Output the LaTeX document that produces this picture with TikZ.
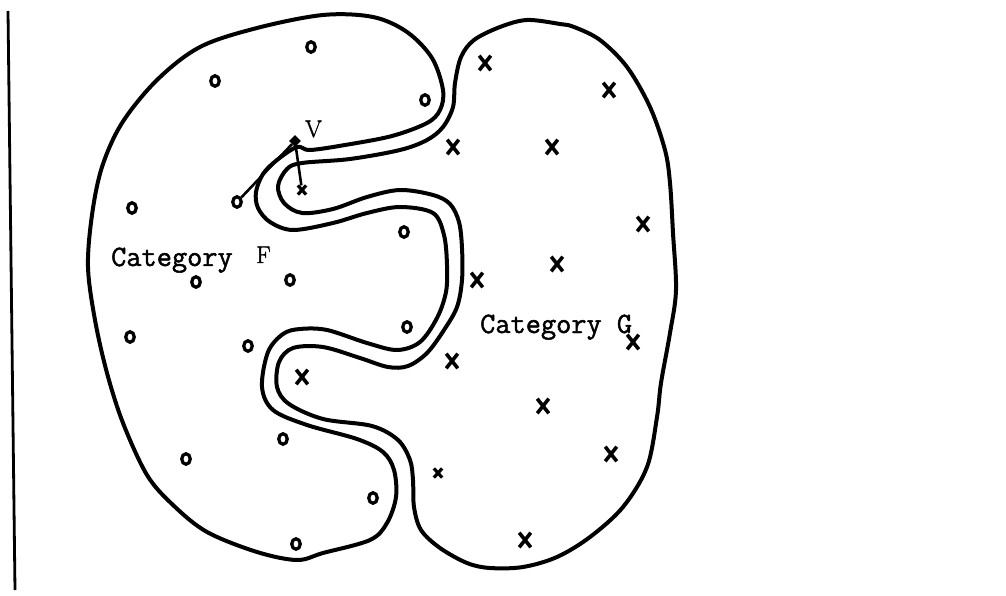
\documentclass[tikz,border=0pt]{standalone}
\usepackage{fontspec}
\newfontfamily\twfont{Latin Modern Mono}[FakeBold=1.6]
\newfontfamily\rmboldish{Latin Modern Roman}[FakeBold=1.4]
\usetikzlibrary{shapes.geometric,shapes.misc}
\tikzset{
  boundary/.style={line width=4bp, line join=round},
  omark/.style={ellipse, draw, line width=3.3bp, minimum width=8.5bp, minimum height=10.5bp, inner sep=0pt},
  xmark/.style={cross out, draw, line width=3.6bp, minimum width=8bp, minimum height=11bp, inner sep=0pt},
  smallx/.style={cross out, draw, line width=3.2bp, minimum width=5bp, minimum height=6bp, inner sep=0pt},
  catlabel/.style={anchor=base west, inner sep=0pt, font=\twfont\fontsize{29.5bp}{30bp}\selectfont},
  letterlabel/.style={anchor=base west, inner sep=0pt, font=\rmboldish\fontsize{24bp}{26bp}\selectfont},
  thinline/.style={line width=2.6bp}
}
\begin{document}
\begin{tikzpicture}[x=1bp,y=-1bp]
\useasboundingbox (0,0) rectangle (1006,596);
\fill[white] (0,0) rectangle (1006,596);
% left frame line
\coordinate (lt) at (8,11);
\coordinate (lb) at (15,590);
\draw[line width=2.8bp] (lt) -- (lb);
% Category F boundary
\draw[boundary] plot[smooth cycle, tension=0.55] coordinates {
(88,267) (92,215) (102,167) (122,123) (157,80) (200,47) (257,28) (323,15) (373,17) (407,32) (432,58) (443,90) (440,110) (427,123) (392,136) (345,145) (310,150) (297,147) (277,160) (263,174) (256,192) (258,208) (270,222) (293,230) (333,223) (367,213) (400,207) (433,213) (444,235) (447,265) (446,292) (437,318) (420,342) (397,350) (367,343) (327,330) (300,329) (283,334) (268,352) (262,387) (273,410) (307,425) (357,439) (383,452) (394,470) (396,497) (387,523) (370,540) (323,553) (297,560) (257,552) (207,532) (173,505) (147,475) (123,423) (107,373) (95,320)};
% Category G boundary
\draw[boundary] plot[smooth cycle, tension=0.55] coordinates {
(670,183) (673,233) (676,290) (670,333) (661,383) (657,417) (647,467) (623,507) (590,537) (557,557) (523,567) (490,568) (467,563) (440,548) (421,530) (414,507) (413,480) (410,460) (398,440) (372,426) (323,419) (289,404) (277,387) (279,362) (293,348) (323,347) (360,358) (388,367) (408,366) (427,353) (444,330) (457,307) (462,280) (462,248) (459,222) (450,204) (433,195) (400,190) (367,197) (333,209) (302,213) (284,203) (278,186) (287,169) (302,163) (350,159) (400,150) (427,140) (443,127) (453,107) (455,83) (461,57) (474,40) (500,27) (527,20) (560,24) (574,27) (600,40) (627,67) (650,107) (665,150)};
% o marks (category F)
\node[omark] (o1) at (311,47) {};
\node[omark] (o2) at (215,81) {};
\node[omark] (o3) at (425,100) {};
\node[omark] (o4) at (132,208) {};
\node[omark] (o5) at (237,202) {};
\node[omark] (o6) at (404,232) {};
\node[omark] (o7) at (196,282) {};
\node[omark] (o8) at (290,280) {};
\node[omark] (o9) at (130,337) {};
\node[omark] (o10) at (248,346) {};
\node[omark] (o11) at (407,327) {};
\node[omark] (o12) at (283,439) {};
\node[omark] (o13) at (186,459) {};
\node[omark] (o14) at (373,498) {};
\node[omark] (o15) at (296,544) {};
% x marks (category G)
\node[xmark] (x1) at (485,63) {};
\node[xmark] (x2) at (609,90) {};
\node[xmark] (x3) at (453,147) {};
\node[xmark] (x4) at (552,147) {};
\node[xmark] (x5) at (643,224) {};
\node[xmark] (x6) at (557,264) {};
\node[xmark] (x7) at (477,280) {};
\node[smallx] (x8) at (302,190) {};
\node[xmark] (x9) at (633,342) {};
\node[xmark] (x10) at (452,361) {};
\node[xmark] (x11) at (302,377) {};
\node[xmark] (x12) at (543,406) {};
\node[smallx] (x13) at (438,473) {};
\node[xmark] (x14) at (611,454) {};
\node[xmark] (x15) at (525,540) {};
% point V and its connectors
\node[diamond, fill, inner sep=3bp] (vp) at (295,141) {};
\node[letterlabel] (vlab) at (305,137) {V};
\draw[thinline] (o5) -- (vp);
\draw[thinline] (vp) -- (x8);
% labels
\node[catlabel] (catF) at (111,266) {Category};
\node[letterlabel] (fl) at (256,263) {F};
\node[catlabel] (catG) at (480,333) {Category G};
\end{tikzpicture}
\end{document}
